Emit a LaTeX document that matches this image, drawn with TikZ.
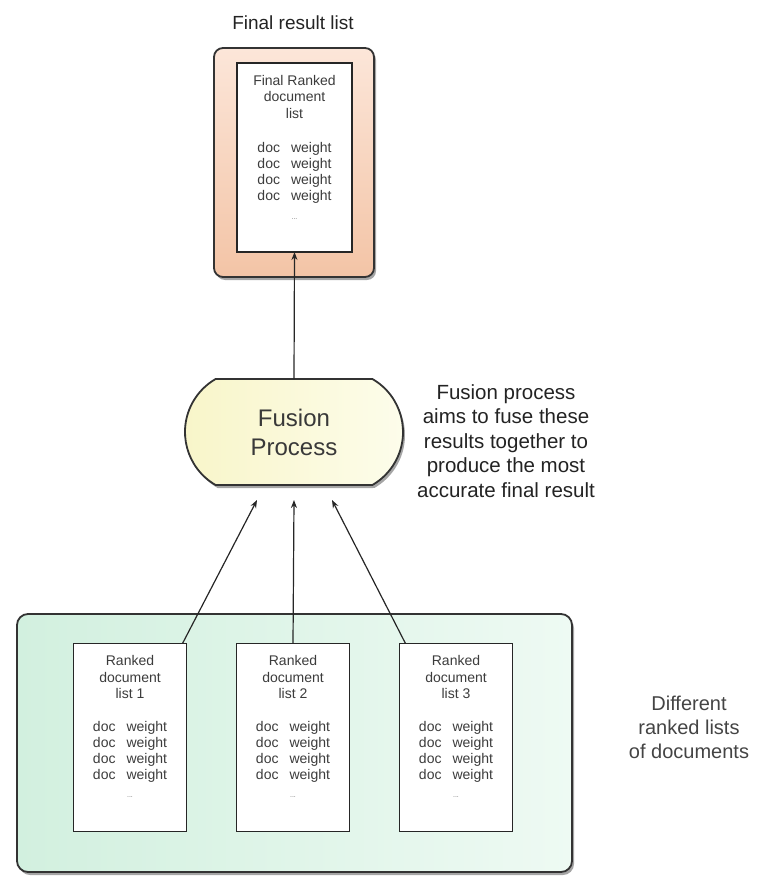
\documentclass[tikz,border=0pt]{standalone}
\usepackage{fontspec}
\setmainfont{Liberation Sans}
\usetikzlibrary{shapes.misc,shadows,arrows.meta}

\definecolor{peachlight}{RGB}{252,230,217}
\definecolor{peachdark}{RGB}{243,196,166}
\definecolor{fusionleft}{RGB}{248,245,200}
\definecolor{fusionright}{RGB}{253,253,236}
\definecolor{greenleft}{RGB}{210,240,223}
\definecolor{greenright}{RGB}{238,250,243}
\definecolor{ink}{RGB}{35,35,35}
\definecolor{listink}{RGB}{60,60,60}

% rows of a ranked list
\newcommand{\docrows}{%
  \begin{tabular}{@{}l@{\hspace{11pt}}l@{}}
    doc & weight\\ doc & weight\\ doc & weight\\ doc & weight
  \end{tabular}}

\begin{document}
\begin{tikzpicture}[x=1pt,y=-1pt,
  every node/.style={inner sep=0pt, outer sep=0pt},
  softshadow/.style={drop shadow={shadow xshift=2pt, shadow yshift=-3pt, opacity=0.5, fill=black!70}},
  outerframe/.style={draw=black!80, line width=1.8pt, rounded corners=9pt, softshadow},
  sheet/.style={draw=black!85, line width=1.4pt, fill=white, minimum width=#1, minimum height=188pt},
  sheettext/.style={text=listink, align=center, font=\fontsize{14}{16.5}\selectfont},
  rowtext/.style={text=listink, font=\fontsize{14}{16}\selectfont},
  dots/.style={text=black!55, font=\fontsize{7}{8}\selectfont},
  caption/.style={text=ink, align=center},
  link/.style={draw=black!85, line width=1.2pt},
  arrowlink/.style={link, -{Stealth[length=8pt,width=6pt]}}
]
\useasboundingbox (0,0) rectangle (761,883);

% final result list
\node[caption, font=\fontsize{19}{21}\selectfont] (title) at (293,23) {Final result list};
\node[outerframe, top color=peachlight, bottom color=peachdark,
      minimum width=160pt, minimum height=229pt] (frame) at (294,162.5) {};
\node[sheet=115pt, minimum height=189pt] (final) at (294.5,157.5) {};
\node[sheettext, anchor=north] (finalhead) at ([yshift=-12pt]final.north) {Final Ranked\\document\\list};
\node[rowtext, anchor=north] (finalrows) at ([yshift=-78pt]final.north) {\docrows};
\node[dots] (finaldots) at ([yshift=-156pt]final.north) {...};

% fusion process
\node[rounded rectangle, rounded rectangle arc length=120, draw=black!80, line width=1.8pt,
      left color=fusionleft, right color=fusionright, softshadow,
      minimum width=218pt, minimum height=106pt,
      text=ink!90, align=center, font=\fontsize{24}{29}\selectfont] (fusion) at (294,432) {Fusion\\Process};
\node[caption, font=\fontsize{20.5}{24.5}\selectfont] (aim) at (506,441)
  {Fusion process\\aims to fuse these\\results together to\\produce the most\\accurate final result};

% container of the ranked lists
\node[outerframe, left color=greenleft, right color=greenright,
      minimum width=555pt, minimum height=258pt, rounded corners=11pt] (pool) at (294.5,743) {};

\foreach \n/\x in {1/130,2/293,3/456}{
  \node[sheet=113pt] (l\n) at (\x,737.5) {};
  \node[sheettext, anchor=north] (head\n) at ([yshift=-12pt]l\n.north) {Ranked\\document\\list \n};
  \node[rowtext, anchor=north] (rows\n) at ([yshift=-77pt]l\n.north) {\docrows};
  \node[dots] (dots\n) at ([yshift=-154pt]l\n.north) {...};
}

\node[caption, text=ink!85, font=\fontsize{20}{24}\selectfont] (diff) at (689,727)
  {Different\\ranked lists\\of documents};

% connectors
\draw[arrowlink] (fusion.north) -- (final.south);
\draw[arrowlink] ([xshift=-4pt]l1.north east) -- ([xshift=-37pt,yshift=-15pt]fusion.south);
\draw[arrowlink] (l2.north) -- ([yshift=-15pt]fusion.south);
\draw[arrowlink] ([xshift=6pt]l3.north west) -- ([xshift=38pt,yshift=-15pt]fusion.south);
\end{tikzpicture}
\end{document}
